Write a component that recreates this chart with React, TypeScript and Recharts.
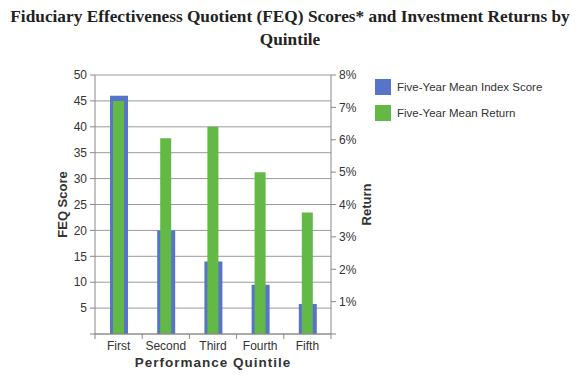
import { BarChart, Bar, XAxis, YAxis, CartesianGrid, Label } from "recharts";

const quintiles = ["First", "Second", "Third", "Fourth", "Fifth"];
const indexScores = [46, 20, 14, 9.5, 5.8];
const meanReturns = [7.2, 6.05, 6.4, 5.0, 3.75];
const scoreTicks = [0, 5, 10, 15, 20, 25, 30, 35, 40, 45, 50];
const returnTicks = [0, 1, 2, 3, 4, 5, 6, 7, 8];

const series = [
  { key: "score", name: "Five-Year Mean Index Score", color: "#5874C8" },
  { key: "ret", name: "Five-Year Mean Return", color: "#62B946" },
];

const data = quintiles.map((q, i) => ({
  quintile: q,
  score: indexScores[i],
  ret: meanReturns[i],
}));

const W = 580;
const H = 381;
const LEFT = 95;
const RIGHT_AXIS_W = 60;
const RIGHT_MARGIN = 189;
const PLOT_W = W - LEFT - RIGHT_AXIS_W - RIGHT_MARGIN;
const BAND = PLOT_W / quintiles.length;
const SANS = "'Liberation Sans', Arial, sans-serif";

function QuintileTick(props: any) {
  const { x, y, payload, index } = props;
  const half = BAND / 2;
  return (
    <g>
      <line x1={x - half} y1={y} x2={x - half} y2={y + 5} stroke="#888" />
      {index === quintiles.length - 1 && (
        <line x1={x + half} y1={y} x2={x + half} y2={y + 5} stroke="#888" />
      )}
      <text x={x} y={y + 16} textAnchor="middle" fill="#333" fontSize={12} fontFamily={SANS}>
        {payload.value}
      </text>
    </g>
  );
}

export default function App() {
  return (
    <div style={{ position: "absolute", left: 0, top: 0, width: W, height: H, background: "#fff" }}>
      <div
        style={{
          position: "absolute",
          left: 0,
          top: 5,
          width: W,
          textAlign: "center",
          fontFamily: "'Liberation Serif', 'DejaVu Serif', serif",
          fontWeight: "bold",
          fontSize: 17.3,
          lineHeight: "23px",
          color: "#222",
        }}
      >
        Fiduciary Effectiveness Quotient (FEQ) Scores* and Investment Returns by
        <br />
        Quintile
      </div>
      <BarChart width={W} height={H} data={data} margin={{ top: 75, right: RIGHT_MARGIN, bottom: 0, left: 0 }}>
        <CartesianGrid yAxisId="left" xAxisId="a" vertical={false} stroke="#9a9a9a" />
        <XAxis
          xAxisId="a"
          dataKey="quintile"
          height={47}
          stroke="#888"
          tickLine={false}
          tickSize={0}
          tickMargin={0}
          tick={<QuintileTick />}
          interval={0}
        >
          <Label
            value="Performance Quintile"
            position="insideBottom"
            offset={14}
            style={{ fontFamily: SANS, fontWeight: "bold", fontSize: 13.5, letterSpacing: 1, fill: "#333" }}
          />
        </XAxis>
        <XAxis xAxisId="b" dataKey="quintile" hide />
        <YAxis
          yAxisId="left"
          width={LEFT}
          domain={[0, 50]}
          ticks={scoreTicks}
          interval={0}
          stroke="#888"
          tickSize={5}
          tickMargin={3}
          tick={{ fontSize: 12, fill: "#333", fontFamily: SANS }}
          tickFormatter={(v: number) => (v === 0 ? "" : String(v))}
        >
          <Label
            value="FEQ Score"
            angle={-90}
            position="center"
            dx={15}
            style={{ fontFamily: SANS, fontWeight: "bold", fontSize: 13, fill: "#333" }}
          />
        </YAxis>
        <YAxis
          yAxisId="right"
          orientation="right"
          width={RIGHT_AXIS_W}
          domain={[0, 8]}
          ticks={returnTicks}
          interval={0}
          stroke="#888"
          tickSize={5}
          tickMargin={3}
          tick={{ fontSize: 12, fill: "#333", fontFamily: SANS }}
          tickFormatter={(v: number) => (v === 0 ? "" : `${v}%`)}
        >
          <Label
            value="Return"
            angle={-90}
            position="center"
            dx={5}
            style={{ fontFamily: SANS, fontWeight: "bold", fontSize: 13, fill: "#333" }}
          />
        </YAxis>
        <Bar
          xAxisId="a"
          yAxisId="left"
          dataKey="score"
          name={series[0].name}
          fill={series[0].color}
          barSize={18}
          isAnimationActive={false}
        />
        <Bar
          xAxisId="b"
          yAxisId="right"
          dataKey="ret"
          name={series[1].name}
          fill={series[1].color}
          barSize={11}
          isAnimationActive={false}
        />
      </BarChart>
      <div style={{ position: "absolute", left: 375, top: 78, fontFamily: SANS, fontSize: 11.5, color: "#333" }}>
        {series.map((s) => (
          <div key={s.key} style={{ display: "flex", alignItems: "center", height: 17, marginBottom: 9 }}>
            <span style={{ display: "inline-block", width: 16, height: 16, background: s.color, marginRight: 6 }} />
            <span>{s.name}</span>
          </div>
        ))}
      </div>
    </div>
  );
}
